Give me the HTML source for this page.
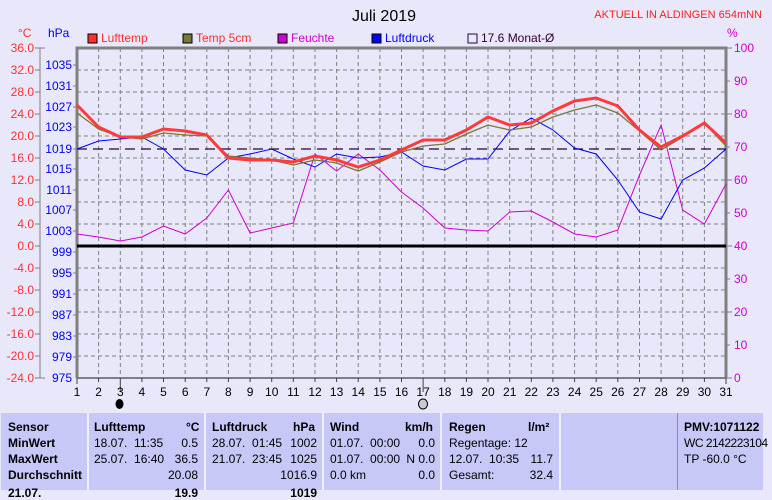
<!DOCTYPE html>
<html><head><meta charset="utf-8"><style>
body{margin:0;width:772px;height:490px;background:#e8e8fa;overflow:hidden;font-family:"Liberation Sans",sans-serif;position:relative}
svg{position:absolute;left:0;top:0}
.tb{position:absolute;top:413px;left:1px;width:762px;height:77px;background:#c8c8f8}
.c{position:absolute;font-size:12px;color:#000;white-space:nowrap}
.b{font-weight:bold}
.vl{position:absolute;top:413px;width:2px;height:77px;background:#f0f0ff}
</style></head><body>
<svg width="772" height="413" font-family="Liberation Sans, sans-serif">
<text x="384" y="21" font-size="16" text-anchor="middle">Juli 2019</text>
<text x="762" y="18" font-size="11" fill="#ff2020" text-anchor="end">AKTUELL IN ALDINGEN 654mNN</text>
<text x="18" y="37" font-size="12" fill="#ff3030">°C</text>
<text x="48" y="37" font-size="12" fill="#0000ff">hPa</text>
<text x="727" y="37" font-size="12" fill="#d000d0">%</text>
<rect x="88" y="34" width="9" height="9" fill="#ff3030" stroke="#000"/><text x="101" y="42" font-size="12" fill="#ff3030">Lufttemp</text>
<rect x="183" y="34" width="9" height="9" fill="#787838" stroke="#000"/><text x="196" y="42" font-size="12" fill="#ff3030">Temp 5cm</text>
<rect x="278" y="34" width="9" height="9" fill="#d000d0" stroke="#000"/><text x="291" y="42" font-size="12" fill="#d000d0">Feuchte</text>
<rect x="372" y="34" width="9" height="9" fill="#0000ff" stroke="#000"/><text x="385" y="42" font-size="12" fill="#0000ff">Luftdruck</text>
<rect x="468" y="34" width="9" height="9" fill="none" stroke="#300030"/><text x="481" y="42" font-size="12" fill="#300030">17.6 Monat-Ø</text>
<g stroke="#808080" stroke-dasharray="4,3" stroke-width="1">
<path d="M98.6 48V378M120.3 48V378M141.9 48V378M163.5 48V378M185.2 48V378M206.8 48V378M228.4 48V378M250.1 48V378M271.7 48V378M293.3 48V378M315 48V378M336.6 48V378M358.2 48V378M379.9 48V378M401.5 48V378M423.1 48V378M444.8 48V378M466.4 48V378M488 48V378M509.7 48V378M531.3 48V378M552.9 48V378M574.6 48V378M596.2 48V378M617.8 48V378M639.5 48V378M661.1 48V378M682.7 48V378M704.4 48V378"/>
<path d="M77 70H726M77 92H726M77 114H726M77 136H726M77 158H726M77 180H726M77 202H726M77 224H726M77 268H726M77 290H726M77 312H726M77 334H726M77 356H726"/>
</g>
<g stroke="#808080" stroke-width="3" fill="none"><path d="M77 378V48H726V378"/></g>
<path d="M77 378H726" stroke="#808080" stroke-width="2"/>
<path d="M40 48V378" stroke="#808080"/>
<g stroke="#808080"><path d="M35 48H45M35 70H40M35 92H40M35 114H40M35 136H40M35 158H40M35 180H40M35 202H40M35 224H40M35 246H40M35 268H40M35 290H40M35 312H40M35 334H40M35 356H40M35 378H45"/>
<path d="M73 65H77M73 86H77M73 107H77M73 127H77M73 149H77M73 169H77M73 190H77M73 210H77M73 231H77M73 252H77M73 273H77M73 294H77M73 315H77M73 336H77M73 357H77"/>
<path d="M726 48H732M726 81H730M726 114H732M726 147H730M726 180H732M726 213H730M726 246H732M726 279H730M726 312H732M726 345H730M726 378H732"/>
<path d="M77 378V384M98.6 378V382M120.3 378V392M141.9 378V382M163.5 378V382M185.2 378V382M206.8 378V382M228.4 378V382M250.1 378V382M271.7 378V382M293.3 378V382M315 378V382M336.6 378V382M358.2 378V382M379.9 378V382M401.5 378V382M423.1 378V392M444.8 378V382M466.4 378V382M488 378V382M509.7 378V382M531.3 378V382M552.9 378V382M574.6 378V382M596.2 378V382M617.8 378V382M639.5 378V382M661.1 378V382M682.7 378V382M704.4 378V382M726 378V384" stroke="#404040"/></g>
<g font-size="12" fill="#ff3030" text-anchor="end">
<text x="34" y="52">36.0</text><text x="34" y="74">32.0</text><text x="34" y="96">28.0</text><text x="34" y="118">24.0</text><text x="34" y="140">20.0</text><text x="34" y="162">16.0</text><text x="34" y="184">12.0</text><text x="34" y="206">8.0</text><text x="34" y="228">4.0</text><text x="34" y="250">0.0</text><text x="34" y="272">-4.0</text><text x="34" y="294">-8.0</text><text x="34" y="316">-12.0</text><text x="34" y="338">-16.0</text><text x="34" y="360">-20.0</text><text x="34" y="382">-24.0</text></g>
<g font-size="12" fill="#0000ff" text-anchor="end">
<text x="72" y="69">1035</text><text x="72" y="90">1031</text><text x="72" y="111">1027</text><text x="72" y="131">1023</text><text x="72" y="153">1019</text><text x="72" y="173">1015</text><text x="72" y="194">1011</text><text x="72" y="214">1007</text><text x="72" y="235">1003</text><text x="72" y="256">999</text><text x="72" y="277">995</text><text x="72" y="298">991</text><text x="72" y="319">987</text><text x="72" y="340">983</text><text x="72" y="361">979</text><text x="72" y="382">975</text></g>
<g font-size="12" fill="#d000d0">
<text x="734" y="52">100</text><text x="734" y="85">90</text><text x="734" y="118">80</text><text x="734" y="151">70</text><text x="734" y="184">60</text><text x="734" y="217">50</text><text x="734" y="250">40</text><text x="734" y="283">30</text><text x="734" y="316">20</text><text x="734" y="349">10</text><text x="734" y="382">0</text></g>
<g font-size="12" text-anchor="middle"><text x="77" y="396">1</text><text x="98.6" y="396">2</text><text x="120.3" y="396">3</text><text x="141.9" y="396">4</text><text x="163.5" y="396">5</text><text x="185.2" y="396">6</text><text x="206.8" y="396">7</text><text x="228.4" y="396">8</text><text x="250.1" y="396">9</text><text x="271.7" y="396">10</text><text x="293.3" y="396">11</text><text x="315" y="396">12</text><text x="336.6" y="396">13</text><text x="358.2" y="396">14</text><text x="379.9" y="396">15</text><text x="401.5" y="396">16</text><text x="423.1" y="396">17</text><text x="444.8" y="396">18</text><text x="466.4" y="396">19</text><text x="488" y="396">20</text><text x="509.7" y="396">21</text><text x="531.3" y="396">22</text><text x="552.9" y="396">23</text><text x="574.6" y="396">24</text><text x="596.2" y="396">25</text><text x="617.8" y="396">26</text><text x="639.5" y="396">27</text><text x="661.1" y="396">28</text><text x="682.7" y="396">29</text><text x="704.4" y="396">30</text><text x="726" y="396">31</text></g>
<ellipse cx="119.5" cy="404" rx="4" ry="5" fill="#000"/>
<ellipse cx="423" cy="404" rx="4.5" ry="5" fill="#ccc" stroke="#000"/>
<path d="M77 246H726" stroke="#000" stroke-width="3"/>
<path d="M77 149H726" stroke="#300030" stroke-dasharray="10,6" stroke-width="1.2"/>
<polyline fill="none" stroke="#d000d0" stroke-width="1" points="77,234 98.6,237 120.3,241 141.9,237 163.5,226 185.2,234 206.8,218 228.4,190 250.1,233 271.7,228 293.3,223 315,154 336.6,171 358.2,154 379.9,170 401.5,192 423.1,208 444.8,228 466.4,230 488,231 509.7,212 531.3,211 552.9,222 574.6,234 596.2,237 617.8,230 639.5,175 661.1,125 682.7,210 704.4,224 726,184"/>
<polyline fill="none" stroke="#0000ff" stroke-width="1" points="77,149 98.6,141 120.3,139 141.9,137 163.5,149 185.2,170 206.8,175 228.4,158 250.1,154 271.7,149 293.3,159 315,167 336.6,154 358.2,158 379.9,157 401.5,152 423.1,166 444.8,170 466.4,159 488,159 509.7,131 531.3,118 552.9,130 574.6,148 596.2,154 617.8,180 639.5,212 661.1,219 682.7,180 704.4,168 726,149"/>
<polyline fill="none" stroke="#787838" stroke-width="1.3" points="77,113 98.6,129 120.3,137 141.9,139 163.5,133 185.2,135 206.8,136 228.4,156 250.1,158 271.7,160 293.3,165 315,160 336.6,163 358.2,171 379.9,162 401.5,152 423.1,146 444.8,144 466.4,134 488,125 509.7,130 531.3,127 552.9,117 574.6,110 596.2,105 617.8,113 639.5,131 661.1,150 682.7,137 704.4,123 726,146"/>
<polyline fill="none" stroke="#ff3a3a" stroke-width="3" points="77,105 98.6,127 120.3,137 141.9,137 163.5,129 185.2,131 206.8,135 228.4,158 250.1,160 271.7,160 293.3,162 315,156 336.6,160 358.2,167 379.9,160 401.5,150 423.1,140 444.8,140 466.4,130 488,117 509.7,125 531.3,123 552.9,111 574.6,101 596.2,98 617.8,106 639.5,130 661.1,147 682.7,136 704.4,123 726,143"/>
</svg>
<div class="tb"></div>
<div class="vl" style="left:87px"></div><div class="vl" style="left:204px"></div><div class="vl" style="left:322px"></div><div class="vl" style="left:440px"></div><div class="vl" style="left:559px"></div><div class="vl" style="left:677px;background:#909090;width:1px"></div>
<div class="c b" style="left:8px;top:420px">Sensor</div>
<div class="c b" style="left:8px;top:436px">MinWert</div>
<div class="c b" style="left:8px;top:452px">MaxWert</div>
<div class="c b" style="left:8px;top:468px">Durchschnitt</div>
<div class="c b" style="left:8px;top:486px">21.07.</div>
<div class="c b" style="left:94px;top:420px">Lufttemp</div><div class="c b" style="left:186px;top:420px">°C</div>
<div class="c" style="left:94px;top:436px">18.07.&nbsp; 11:35</div><div class="c" style="right:574px;top:436px">0.5</div>
<div class="c" style="left:94px;top:452px">25.07.&nbsp; 16:40</div><div class="c" style="right:574px;top:452px">36.5</div>
<div class="c" style="right:574px;top:468px">20.08</div><div class="c b" style="right:574px;top:486px">19.9</div>
<div class="c b" style="left:212px;top:420px">Luftdruck</div><div class="c b" style="left:293px;top:420px">hPa</div>
<div class="c" style="left:212px;top:436px">28.07.&nbsp; 01:45</div><div class="c" style="right:455px;top:436px">1002</div>
<div class="c" style="left:212px;top:452px">21.07.&nbsp; 23:45</div><div class="c" style="right:455px;top:452px">1025</div>
<div class="c" style="right:455px;top:468px">1016.9</div><div class="c b" style="right:455px;top:486px">1019</div>
<div class="c b" style="left:330px;top:420px">Wind</div><div class="c b" style="left:405px;top:420px">km/h</div>
<div class="c" style="left:330px;top:436px">01.07.&nbsp; 00:00</div><div class="c" style="right:337px;top:436px">0.0</div>
<div class="c" style="left:330px;top:452px">01.07.&nbsp; 00:00</div><div class="c" style="right:337px;top:452px">N 0.0</div>
<div class="c" style="left:330px;top:468px">0.0 km</div><div class="c" style="right:337px;top:468px">0.0</div>
<div class="c b" style="left:449px;top:420px">Regen</div><div class="c b" style="left:528px;top:420px">l/m²</div>
<div class="c" style="left:449px;top:436px">Regentage: 12</div>
<div class="c" style="left:449px;top:452px">12.07.&nbsp; 10:35</div><div class="c" style="right:219px;top:452px">11.7</div>
<div class="c" style="left:449px;top:468px">Gesamt:</div><div class="c" style="right:219px;top:468px">32.4</div>
<div class="c b" style="left:684px;top:420px">PMV:1071122</div>
<div class="c" style="left:684px;top:436px;letter-spacing:-0.5px">WC 2142223104</div>
<div class="c" style="left:684px;top:452px">TP -60.0 °C</div>
</body></html>
